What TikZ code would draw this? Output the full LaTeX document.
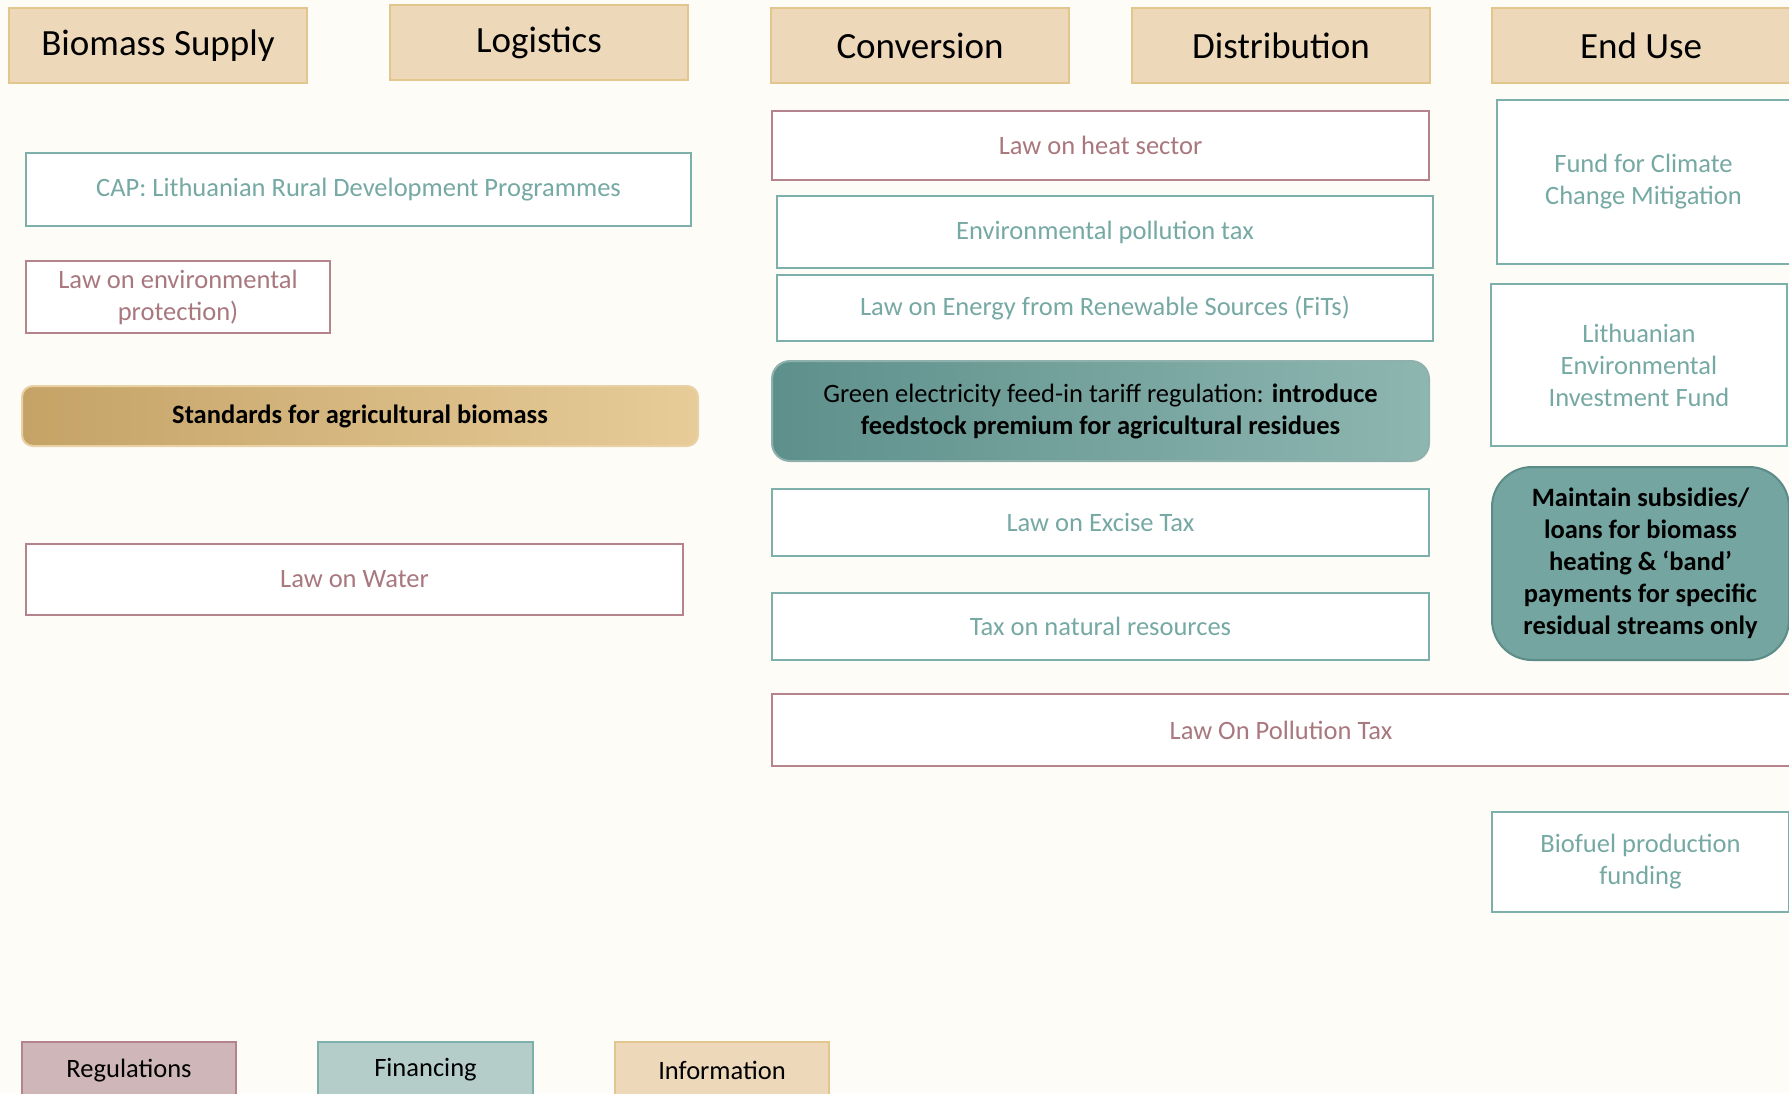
\documentclass[tikz,border=0pt]{standalone}
\usepackage{fontspec}
\setmainfont{Carlito}
\begin{document}
\definecolor{bgcream}{HTML}{FDFCF7}
\definecolor{headfill}{HTML}{EDD9B9}
\definecolor{headline}{HTML}{E2C68D}
\definecolor{tealline}{HTML}{7DB0AB}
\definecolor{tealtext}{HTML}{76A9A4}
\definecolor{roseline}{HTML}{B5838C}
\definecolor{rosetext}{HTML}{A9787F}
\definecolor{stdleft}{HTML}{C5A367}
\definecolor{stdright}{HTML}{E7CC99}
\definecolor{grnleft}{HTML}{5E908B}
\definecolor{grnright}{HTML}{8EB6B1}
\definecolor{mntfill}{HTML}{75A5A0}
\definecolor{mntline}{HTML}{5C8C87}
\definecolor{regfill}{HTML}{CEB6B9}
\definecolor{finfill}{HTML}{B5CDC9}
\begin{tikzpicture}[x=1pt,y=-1pt,
  base/.style={inner sep=0pt, align=center, line width=2pt},
  header/.style={base, fill=headfill, draw=headline, font=\fontsize{37}{44}\selectfont},
  finbox/.style={base, fill=white, draw=tealline, text=tealtext, font=\fontsize{26.5}{32}\selectfont},
  regbox/.style={base, fill=white, draw=roseline, text=rosetext, font=\fontsize{26.5}{32}\selectfont},
  legend/.style={base, font=\fontsize{26.5}{30}\selectfont},
  sz/.style 2 args={minimum width=#1pt, minimum height=#2pt}]
\useasboundingbox (0,0) rectangle (1789,1093);
\clip (0,0) rectangle (1789,1093);
\fill[bgcream] (0,0) rectangle (1789,1093);

% value-chain stages
\node[header, sz={298}{75}] (hbs)   at (158,45.5)  {Biomass Supply};
\node[header, sz={298}{75}] (hlog)  at (539,42.5)  {Logistics};
\node[header, sz={298}{75}] (hconv) at (920,45.5)  {Conversion};
\node[header, sz={298}{75}] (hdist) at (1281,45.5) {Distribution};
\node[header, sz={298}{75}] (hend)  at (1641,45.5) {End Use};

% biomass supply / logistics
\node[finbox, sz={665}{73}] (cap) at (358.5,189.5) {CAP: Lithuanian Rural Development Programmes};
\node[regbox, sz={304}{72}] (envp) at (178,297) {Law on environmental\\protection)};
\node[base, sz={676}{60}, rounded corners=11pt, left color=stdleft, right color=stdright,
      draw=headline!80!white, font=\bfseries\fontsize{26.5}{32}\selectfont] (std) at (360,416)
      {Standards for agricultural biomass};
\node[regbox, sz={657}{71}] (water) at (354.5,579.5) {Law on Water};

% conversion / distribution
\node[regbox, sz={657}{69}] (heat) at (1100.5,145.5) {Law on heat sector};
\node[finbox, sz={656}{72}] (envtax) at (1105,232) {Environmental pollution tax};
\node[finbox, sz={656}{66}] (res) at (1105,308) {Law on Energy from Renewable Sources (FiTs)};
\node[base, sz={657}{100}, rounded corners=18pt, left color=grnleft, right color=grnright,
      draw=grnleft!70!white, font=\fontsize{26.5}{32}\selectfont] (green) at (1100.5,411)
      {Green electricity feed-in tariff regulation: \textbf{introduce}\\\textbf{feedstock premium for agricultural residues}};
\node[finbox, sz={657}{67}] (excise) at (1100.5,522.5) {Law on Excise Tax};
\node[finbox, sz={657}{67}] (natres) at (1100.5,626.5) {Tax on natural resources};
\node[regbox, sz={1018}{72}] (poll) at (1281,730) {Law On Pollution Tax};

% end use
\node[finbox, sz={293}{164}] (climate) at (1643.5,182) {Fund for Climate\\Change Mitigation};
\node[finbox, sz={296}{162}] (lith) at (1639,365) {Lithuanian\\Environmental\\Investment Fund};
\node[base, sz={297}{193}, rounded corners=40pt, fill=mntfill, draw=mntline,
      font=\bfseries\fontsize{26.5}{32}\selectfont] (maint) at (1640.5,563.5)
      {Maintain subsidies/\\loans for biomass\\heating \& ‘band’\\payments for specific\\residual streams only};
\node[finbox, sz={297}{100}] (biofuel) at (1640.5,862) {Biofuel production\\funding};

% key
\node[legend, sz={214}{60}, fill=regfill, draw=roseline] (kreg) at (129,1072) {};
\node[legend, sz={215}{60}, fill=finfill, draw=tealline] (kfin) at (425.5,1072) {};
\node[legend, sz={214}{60}, fill=headfill, draw=headline] (kinf) at (722,1072) {};
\node[legend] (treg) at (129,1071) {Regulations};
\node[legend] (tfin) at (425.5,1070) {Financing};
\node[legend] (tinf) at (722,1070) {Information};
\end{tikzpicture}
\end{document}
